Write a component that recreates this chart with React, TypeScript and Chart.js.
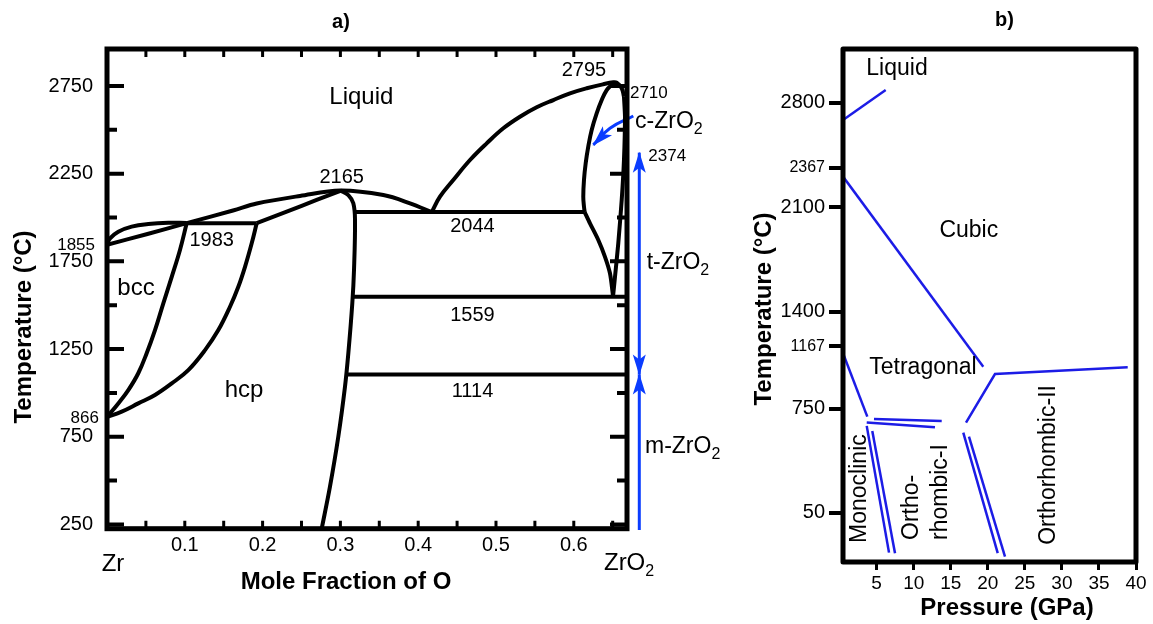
import React, { useEffect, useRef } from 'react';
import { Chart, registerables } from 'chart.js';

Chart.register(...registerables);

const FONT = "'Liberation Sans', Arial, Helvetica, sans-serif";
Chart.defaults.font.family = FONT;
Chart.defaults.color = '#000';

// ---------------- Panel a) : [mole fraction of O, temperature (°C)] ----------------
const liquidusZr = [[0, 1845], [0.052, 1906], [0.1024, 1968], [0.162, 2040], [0.1924, 2080], [0.2481, 2123], [0.3, 2154], [0.3552, 2128], [0.3895, 2081], [0.4174, 2031]];
const liquidusOx = [[0.4174, 2031], [0.428, 2119], [0.4451, 2214], [0.4666, 2328], [0.488, 2423], [0.5094, 2509], [0.5308, 2575], [0.5523, 2629], [0.5737, 2670], [0.5951, 2708], [0.6166, 2737], [0.6379, 2760], [0.6508, 2771], [0.6551, 2769], [0.6616, 2737], [0.6645, 2689]];
const cubicLeft = [[0.6525, 2771], [0.6487, 2756], [0.6423, 2727], [0.6359, 2670], [0.6294, 2594], [0.623, 2499], [0.6186, 2404], [0.6153, 2309], [0.6131, 2214], [0.6122, 2119], [0.6131, 2062], [0.614, 2031]];
const tetragonalLeft = [[0.614, 2031], [0.6208, 1967], [0.6315, 1872], [0.6401, 1776], [0.6465, 1682], [0.65, 1568], [0.6504, 1548]];
const tetragonalRight = [[0.6504, 1548], [0.653, 1663], [0.6572, 1853], [0.6616, 2100], [0.6645, 2328], [0.6658, 2575], [0.6645, 2689]];
const line2044 = [[0.3185, 2031], [0.614, 2031]];
const line1559 = [[0.3145, 1548], [0.6684, 1548]];
const line1114 = [[0.3081, 1105], [0.6684, 1105]];
const line1983 = [[0.1024, 1968], [0.1924, 1968]];
const bccSolidus = [[0, 1848], [0.0039, 1881], [0.0145, 1919], [0.0317, 1948], [0.0531, 1963], [0.0788, 1970], [0.1024, 1969]];
const bccTransus = [[0.1024, 1967], [0.0938, 1815], [0.0832, 1662], [0.0724, 1511], [0.0617, 1358], [0.051, 1226], [0.0402, 1112], [0.0274, 1016], [0.0145, 940], [0, 862]];
const hcpTransus = [[0.1924, 1967], [0.186, 1853], [0.1774, 1719], [0.1688, 1605], [0.1581, 1491], [0.1431, 1358], [0.126, 1244], [0.1045, 1130], [0.0832, 1054], [0.0617, 988], [0.0402, 940], [0.0189, 893], [0, 862]];
const peritecticRise = [[0.1924, 1968], [0.231, 2033], [0.2695, 2100], [0.3, 2152]];
const alphaSolvus = [[0.3, 2154], [0.3102, 2128], [0.3166, 2081], [0.3188, 1986], [0.3175, 1701], [0.3153, 1511], [0.3102, 1226], [0.3059, 1035], [0.2973, 750], [0.2866, 465], [0.276, 226]];
const cArrow = [[0.6765, 2579], [0.6465, 2509], [0.6251, 2414]];
const tArrow = [[0.6842, 1105], [0.6842, 2370]];
const mArrow = [[0.6842, 218], [0.6842, 1105]];

const leftYLabels = [250, 750, 1250, 1750, 2250, 2750];
const leftYMinor = [500, 1000, 1500, 2000, 2500];
const leftXLabels = [0.1, 0.2, 0.3, 0.4, 0.5, 0.6];
const leftXTicks = [0.05, 0.1, 0.15, 0.2, 0.25, 0.3, 0.35, 0.4, 0.45, 0.5, 0.55, 0.6, 0.65];

// ---------------- Panel b) : [pressure (GPa), temperature (°C)] ----------------
const liquidBoundary = [[0.46, 2686], [6.22, 2887]];
const cubicTetragonal = [[0.46, 2306], [19.39, 1031]];
const tetragonalMonoclinic = [[0.46, 1121], [3.74, 696]];
const tetragonalOrthoII = [[17.06, 656], [20.97, 982], [38.88, 1027]];
const orthoITopA = [[3.66, 656], [12.87, 625]];
const orthoITopB = [[4.64, 681], [13.78, 667]];
const monoOrthoIA = [[3.66, 634], [6.67, -216]];
const monoOrthoIB = [[4.41, 600], [7.48, -220]];
const orthoIOrthoIIA = [[16.69, 589], [21.34, -220]];
const orthoIOrthoIIB = [[17.46, 562], [22.32, -243]];

const rightYLabels = [50, 750, 1167, 1400, 2100, 2367, 2800];
const rightYSmall = [1167, 2367];
const rightXLabels = [5, 10, 15, 20, 25, 30, 35, 40];

type Note = { t: string; sub?: string; x: number; y: number; size: number; align?: string; rotate?: boolean; bold?: boolean };

const leftNotes: Note[] = [
  { t: 'Liquid', x: 0.3269, y: 2647, size: 24 },
  { t: 'bcc', x: 0.0373, y: 1558, size: 24 },
  { t: 'hcp', x: 0.1761, y: 978, size: 24 },
  { t: '2165', x: 0.3017, y: 2195, size: 20 },
  { t: '1983', x: 0.1346, y: 1838, size: 20 },
  { t: '2044', x: 0.4698, y: 1916, size: 20 },
  { t: '1559', x: 0.4698, y: 1412, size: 20 },
  { t: '1114', x: 0.4698, y: 978, size: 20 },
  { t: '2795', x: 0.6131, y: 2809, size: 20 },
  { t: '2710', x: 0.6722, y: 2683, size: 17, align: 'left' },
  { t: '2374', x: 0.6958, y: 2322, size: 17, align: 'left' },
  { t: 'c-ZrO', sub: '2', x: 0.6787, y: 2509, size: 23, align: 'left' },
  { t: 't-ZrO', sub: '2', x: 0.6937, y: 1705, size: 23, align: 'left' },
  { t: 'm-ZrO', sub: '2', x: 0.6915, y: 655, size: 23, align: 'left' },
  { t: '1855', x: -0.0154, y: 1815, size: 17, align: 'right' },
  { t: '866', x: -0.0103, y: 826, size: 17, align: 'right' },
  { t: 'Zr', x: 0.0077, y: -14, size: 24 },
  { t: 'ZrO', sub: '2', x: 0.6388, y: -10, size: 24, align: 'left' },
];

const rightNotes: Note[] = [
  { t: 'Liquid', x: 7.75, y: 2988, size: 23 },
  { t: 'Cubic', x: 17.44, y: 1899, size: 23 },
  { t: 'Tetragonal', x: 11.25, y: 982, size: 23 },
  { t: 'Monoclinic', x: 3.56, y: -151, size: 23, align: 'left', rotate: true },
  { t: 'Ortho-', x: 10.58, y: -131, size: 23, align: 'left', rotate: true },
  { t: 'rhombic-I', x: 14.49, y: -131, size: 23, align: 'left', rotate: true },
  { t: 'Orthorhombic-II', x: 29.07, y: -164, size: 23, align: 'left', rotate: true },
];

const BLUE_A = '#0a3cff';
const BLUE_B = '#1c1ce6';

const pts = (a: number[][]) => a.map(([x, y]) => ({ x, y }));

function lineSet(a: number[][], color: string, width: number, tension: number, extra: any = {}) {
  return {
    data: pts(a),
    showLine: true,
    borderColor: color,
    backgroundColor: color,
    borderWidth: width,
    pointRadius: 0,
    pointHoverRadius: 0,
    tension,
    fill: false,
    ...extra,
  };
}

function drawText(ctx: CanvasRenderingContext2D, main: string, sub: string | undefined, px: number, py: number,
  size: number, align: string, bold: boolean, rotate: boolean) {
  ctx.save();
  ctx.translate(px, py);
  if (rotate) ctx.rotate(-Math.PI / 2);
  const mainFont = `${bold ? 'bold ' : ''}${size}px ${FONT}`;
  const subFont = `${bold ? 'bold ' : ''}${Math.round(size * 0.68)}px ${FONT}`;
  ctx.font = mainFont;
  const w1 = ctx.measureText(main).width;
  let w2 = 0;
  if (sub) {
    ctx.font = subFont;
    w2 = ctx.measureText(sub).width;
  }
  const total = w1 + w2;
  const x0 = align === 'center' ? -total / 2 : align === 'right' ? -total : 0;
  ctx.fillStyle = '#000';
  ctx.textAlign = 'left';
  ctx.textBaseline = 'alphabetic';
  ctx.font = mainFont;
  ctx.fillText(main, x0, 0);
  if (sub) {
    ctx.font = subFont;
    ctx.fillText(sub, x0 + w1, size * 0.26);
  }
  ctx.restore();
}

function drawNotes(chart: any, notes: Note[]) {
  const xs = chart.scales.x;
  const ys = chart.scales.y;
  for (const n of notes) {
    drawText(chart.ctx, n.t, n.sub, xs.getPixelForValue(n.x), ys.getPixelForValue(n.y), n.size,
      n.align || 'center', !!n.bold, !!n.rotate);
  }
}

function dart(ctx: CanvasRenderingContext2D, tx: number, ty: number, fx: number, fy: number, color: string) {
  const ang = Math.atan2(ty - fy, tx - fx);
  const len = 20, half = 6.5, notch = 5;
  ctx.save();
  ctx.translate(tx, ty);
  ctx.rotate(ang);
  ctx.beginPath();
  ctx.moveTo(1, 0);
  ctx.lineTo(-len, -half);
  ctx.lineTo(-len + notch, 0);
  ctx.lineTo(-len, half);
  ctx.closePath();
  ctx.fillStyle = color;
  ctx.fill();
  ctx.restore();
}

function drawArrowHeads(chart: any) {
  chart.data.datasets.forEach((ds: any, i: number) => {
    if (!ds.arrow) return;
    const p = chart.getDatasetMeta(i).data;
    const n = p.length;
    if (ds.arrow === 'end' || ds.arrow === 'both') dart(chart.ctx, p[n - 1].x, p[n - 1].y, p[n - 2].x, p[n - 2].y, ds.borderColor);
    if (ds.arrow === 'start' || ds.arrow === 'both') dart(chart.ctx, p[0].x, p[0].y, p[1].x, p[1].y, ds.borderColor);
  });
}

const leftDecor = {
  id: 'leftDecor',
  afterDatasetsDraw(chart: any) {
    const ctx = chart.ctx as CanvasRenderingContext2D;
    const { left, right, top, bottom } = chart.chartArea;
    const xs = chart.scales.x, ys = chart.scales.y;
    ctx.save();
    drawArrowHeads(chart);
    ctx.strokeStyle = '#000';
    ctx.lineWidth = 4;
    ctx.beginPath();
    const yTicks = [...leftYLabels.map((v) => [v, 17]), ...leftYMinor.map((v) => [v, 10])];
    for (const [v, len] of yTicks) {
      const py = ys.getPixelForValue(v);
      ctx.moveTo(left, py); ctx.lineTo(left + len, py);
      ctx.moveTo(right, py); ctx.lineTo(right - len, py);
    }
    ctx.stroke();
    ctx.lineWidth = 3;
    ctx.beginPath();
    for (const v of leftXTicks) {
      const px = xs.getPixelForValue(v);
      ctx.moveTo(px, top); ctx.lineTo(px, top + 8);
      ctx.moveTo(px, bottom); ctx.lineTo(px, bottom - 8);
    }
    ctx.stroke();
    ctx.lineWidth = 5;
    ctx.lineJoin = 'miter';
    ctx.strokeRect(left, top, right - left, bottom - top);
    ctx.restore();
  },
  afterDraw(chart: any) {
    const ctx = chart.ctx as CanvasRenderingContext2D;
    drawNotes(chart, leftNotes);
    drawText(ctx, 'a)', undefined, 341, 28, 20, 'center', true, false);
    drawText(ctx, 'Temperature (°C)', undefined, 31, 327, 24, 'center', true, true);
    drawText(ctx, 'Mole Fraction of O', undefined, 346, 589, 24, 'center', true, false);
  },
};

const rightDecor = {
  id: 'rightDecor',
  afterDatasetsDraw(chart: any) {
    const ctx = chart.ctx as CanvasRenderingContext2D;
    const { left, right, top, bottom } = chart.chartArea;
    ctx.save();
    ctx.strokeStyle = '#000';
    ctx.lineWidth = 5;
    ctx.lineJoin = 'round';
    ctx.strokeRect(left, top, right - left, bottom - top);
    ctx.restore();
  },
  afterDraw(chart: any) {
    const ctx = chart.ctx as CanvasRenderingContext2D;
    drawNotes(chart, rightNotes);
    drawText(ctx, 'b)', undefined, 264.5, 26, 20, 'center', true, false);
    drawText(ctx, 'Temperature (°C)', undefined, 31, 309, 24, 'center', true, true);
    drawText(ctx, 'Pressure (GPa)', undefined, 267, 615, 24, 'center', true, false);
  },
};

function leftConfig(): any {
  return {
    type: 'scatter',
    data: {
      datasets: [
        lineSet(liquidusZr, '#000', 4, 0.35),
        lineSet(liquidusOx, '#000', 4, 0.4),
        lineSet(cubicLeft, '#000', 4, 0.4),
        lineSet(tetragonalLeft, '#000', 4, 0.3),
        lineSet(tetragonalRight, '#000', 4, 0.2),
        lineSet(line2044, '#000', 4, 0),
        lineSet(line1559, '#000', 4, 0),
        lineSet(line1114, '#000', 4, 0),
        lineSet(line1983, '#000', 4, 0),
        lineSet(bccSolidus, '#000', 4, 0.4),
        lineSet(bccTransus, '#000', 4, 0.4),
        lineSet(hcpTransus, '#000', 4, 0.4),
        lineSet(peritecticRise, '#000', 4, 0.3),
        lineSet(alphaSolvus, '#000', 4, 0.35),
        lineSet(cArrow, BLUE_A, 3, 0.4, { clip: false, arrow: 'end' }),
        lineSet(tArrow, BLUE_A, 3, 0, { clip: false, arrow: 'both' }),
        lineSet(mArrow, BLUE_A, 3, 0, { clip: false, arrow: 'end' }),
      ],
    },
    options: {
      animation: false,
      responsive: false,
      maintainAspectRatio: false,
      events: [],
      layout: { padding: { left: 0, top: 49, right: 113, bottom: 0 } },
      plugins: { legend: { display: false }, tooltip: { enabled: false } },
      scales: {
        x: {
          type: 'linear',
          min: 0,
          max: 0.6684,
          grid: { display: false, drawTicks: false },
          border: { display: false },
          afterBuildTicks: (s: any) => { s.ticks = leftXLabels.map((v) => ({ value: v })); },
          afterFit: (s: any) => { s.height = 95.3; },
          ticks: { padding: 5, font: { size: 20 }, color: '#000', autoSkip: false, maxRotation: 0,
            callback: (v: any) => Number(v).toFixed(1) },
        },
        y: {
          type: 'linear',
          min: 225.5,
          max: 2961,
          grid: { display: false, drawTicks: false },
          border: { display: false },
          afterBuildTicks: (s: any) => { s.ticks = leftYLabels.map((v) => ({ value: v })); },
          afterFit: (s: any) => { s.width = 107; },
          ticks: { padding: 14, font: { size: 20 }, color: '#000', autoSkip: false,
            callback: (v: any) => String(v) },
        },
      },
    },
    plugins: [leftDecor],
  };
}

function rightConfig(): any {
  return {
    type: 'scatter',
    data: {
      datasets: [
        lineSet(liquidBoundary, BLUE_B, 2.5, 0),
        lineSet(cubicTetragonal, BLUE_B, 2.5, 0),
        lineSet(tetragonalMonoclinic, BLUE_B, 2.5, 0),
        lineSet(tetragonalOrthoII, BLUE_B, 2.5, 0),
        lineSet(orthoITopA, BLUE_B, 2.5, 0),
        lineSet(orthoITopB, BLUE_B, 2.5, 0),
        lineSet(monoOrthoIA, BLUE_B, 2.5, 0),
        lineSet(monoOrthoIB, BLUE_B, 2.5, 0),
        lineSet(orthoIOrthoIIA, BLUE_B, 2.5, 0),
        lineSet(orthoIOrthoIIB, BLUE_B, 2.5, 0),
      ],
    },
    options: {
      animation: false,
      responsive: false,
      maintainAspectRatio: false,
      events: [],
      layout: { padding: { left: 0, top: 49, right: 17, bottom: 0 } },
      plugins: { legend: { display: false }, tooltip: { enabled: false } },
      scales: {
        x: {
          type: 'linear',
          min: 0.46,
          max: 40,
          grid: { display: true, drawOnChartArea: false, drawTicks: true, tickLength: 8, tickWidth: 3, tickColor: '#000', lineWidth: 3, color: '#000' },
          border: { display: false },
          afterBuildTicks: (s: any) => { s.ticks = rightXLabels.map((v) => ({ value: v })); },
          afterFit: (s: any) => { s.height = 62; },
          ticks: { padding: 2, font: { size: 19 }, color: '#000', autoSkip: false, maxRotation: 0,
            callback: (v: any) => String(v) },
        },
        y: {
          type: 'linear',
          min: -279,
          max: 3162,
          grid: { display: true, drawOnChartArea: false, drawTicks: true, tickLength: 14, tickWidth: 4, tickColor: '#000', lineWidth: 4, color: '#000' },
          border: { display: false },
          afterBuildTicks: (s: any) => { s.ticks = rightYLabels.map((v) => ({ value: v })); },
          afterFit: (s: any) => { s.width = 103; },
          ticks: {
            padding: 4,
            color: '#000',
            autoSkip: false,
            font: (c: any) => ({ family: FONT, size: c.tick && rightYSmall.includes(c.tick.value) ? 16 : 20 }),
            callback: (v: any) => String(v),
          },
        },
      },
    },
    plugins: [rightDecor],
  };
}

export default function App() {
  const leftRef = useRef<HTMLCanvasElement>(null);
  const rightRef = useRef<HTMLCanvasElement>(null);
  useEffect(() => {
    const c1 = new Chart(leftRef.current as HTMLCanvasElement, leftConfig());
    const c2 = new Chart(rightRef.current as HTMLCanvasElement, rightConfig());
    return () => {
      c1.destroy();
      c2.destroy();
    };
  }, []);
  return (
    <div style={{ position: 'absolute', left: 0, top: 0, width: 1153, height: 624, background: '#fff' }}>
      <canvas ref={leftRef} width={740} height={624}
        style={{ position: 'absolute', left: 0, top: 0, width: 740, height: 624 }} />
      <canvas ref={rightRef} width={413} height={624}
        style={{ position: 'absolute', left: 740, top: 0, width: 413, height: 624 }} />
    </div>
  );
}
